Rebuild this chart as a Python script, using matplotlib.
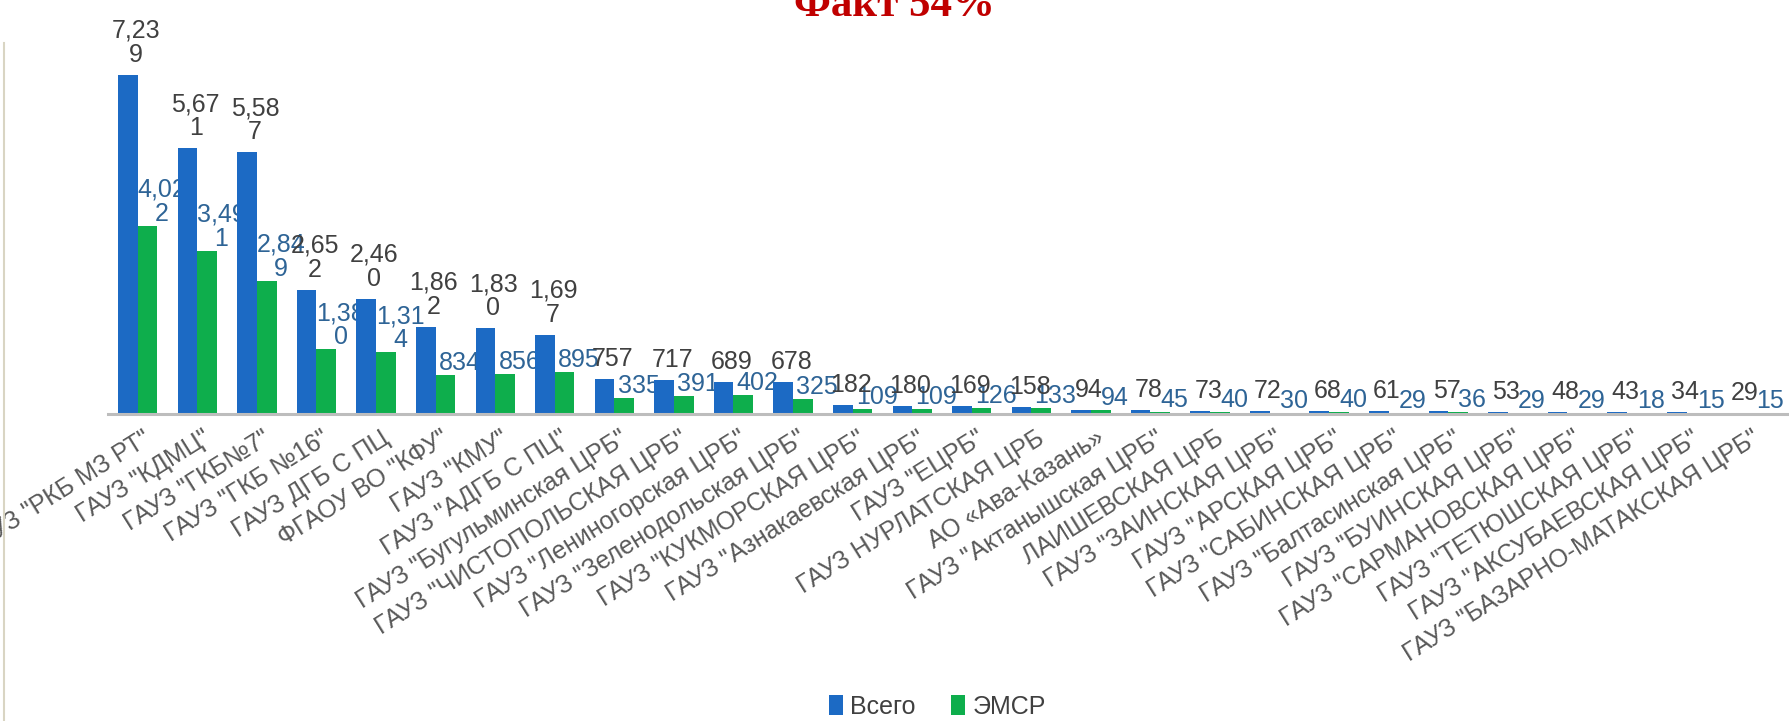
import matplotlib
matplotlib.use("Agg")
import matplotlib.pyplot as plt
from matplotlib.patches import Patch
from matplotlib.lines import Line2D
from matplotlib.transforms import offset_copy
import numpy as np

plt.rcParams['font.family'] = ['Liberation Sans', 'DejaVu Sans']

categories = [
    'ГАУЗ "РКБ МЗ РТ"', 'ГАУЗ "КДМЦ"', 'ГАУЗ "ГКБ№7"', 'ГАУЗ "ГКБ №16"',
    'ГАУЗ ДГБ С ПЦ', 'ФГАОУ ВО "КФУ"', 'ГАУЗ "КМУ"', 'ГАУЗ "АДГБ С ПЦ"',
    'ГАУЗ "Бугульминская ЦРБ"', 'ГАУЗ "ЧИСТОПОЛЬСКАЯ ЦРБ"',
    'ГАУЗ "Лениногорская ЦРБ"', 'ГАУЗ "Зеленодольская ЦРБ"',
    'ГАУЗ "КУКМОРСКАЯ ЦРБ"', 'ГАУЗ "Азнакаевская ЦРБ"', 'ГАУЗ "ЕЦРБ"',
    'ГАУЗ НУРЛАТСКАЯ ЦРБ', 'АО «Ава-Казань»', 'ГАУЗ "Актанышская ЦРБ"',
    'ЛАИШЕВСКАЯ ЦРБ', 'ГАУЗ "ЗАИНСКАЯ ЦРБ"', 'ГАУЗ "АРСКАЯ ЦРБ"',
    'ГАУЗ "САБИНСКАЯ ЦРБ"', 'ГАУЗ "Балтасинская ЦРБ"', 'ГАУЗ "БУИНСКАЯ ЦРБ"',
    'ГАУЗ "САРМАНОВСКАЯ ЦРБ"', 'ГАУЗ "ТЕТЮШСКАЯ ЦРБ"',
    'ГАУЗ "АКСУБАЕВСКАЯ ЦРБ"', 'ГАУЗ "БАЗАРНО-МАТАКСКАЯ ЦРБ"',
]
vsego = [7239, 5671, 5587, 2652, 2460, 1862, 1830, 1697, 757, 717, 689, 678,
         182, 180, 169, 158, 94, 78, 73, 72, 68, 61, 57, 53, 48, 43, 34, 29]
emsr = [4022, 3491, 2849, 1380, 1314, 834, 856, 895, 335, 391, 402, 325,
        109, 109, 126, 133, 94, 45, 40, 30, 40, 29, 36, 29, 29, 18, 15, 15]
series_names = ['Всего', 'ЭМСР']
title = 'Факт 54%'

BLUE = '#1C6AC4'
GREEN = '#0EAE4C'
LBL_GRAY = '#404040'
LBL_BLUE = '#2E6496'
TICK_GRAY = '#595959'

W, H, DPI = 1789, 721, 100
fig = plt.figure(figsize=(W / DPI, H / DPI), dpi=DPI)

# axes: left at 108 px, right at image edge, baseline at 414 px from top
left = 108 / W
bottom = (H - 414) / H
ax = fig.add_axes([left, bottom, 1 - left, 1 - bottom])

x = np.arange(len(categories))
bw = 0.33
ax.bar(x - bw / 2, vsego, width=bw, color=BLUE, zorder=3)
ax.bar(x + bw / 2, emsr, width=bw, color=GREEN, zorder=3)

ax.set_xlim(-0.5, 27.72)
ax.set_ylim(0, 8840)

for s in ['top', 'right', 'left']:
    ax.spines[s].set_visible(False)
ax.spines['bottom'].set_color('#BDBDBD')
ax.spines['bottom'].set_linewidth(2.2)
ax.spines['bottom'].set_zorder(4)
ax.set_yticks([])
ax.set_xticks(x)
ax.set_xticklabels([])
ax.tick_params(axis='x', length=0)
ax.patch.set_alpha(0)


def fmt(v):
    s = f"{v:,}"
    if len(s) > 4:
        s = s[:4] + "\n" + s[4:]
    return s


tr_up = offset_copy(ax.transData, fig=fig, x=0, y=8, units='dots')
tr_up2 = offset_copy(ax.transData, fig=fig, x=0, y=0, units='dots')
for i, (a, b) in enumerate(zip(vsego, emsr)):
    ax.text(i - 0.03, a, fmt(a), ha='center', va='bottom', fontsize=18,
            color=LBL_GRAY, transform=tr_up, linespacing=1.0,
            zorder=5, clip_on=False)
    ax.text(i + bw / 2 + 0.24, b, fmt(b), ha='center', va='bottom', fontsize=18,
            color=LBL_BLUE, transform=tr_up2, linespacing=1.0,
            zorder=2, clip_on=False)

# category labels
tr_lab = offset_copy(ax.transData, fig=fig, x=0, y=-12, units='dots')
for i, c in enumerate(categories):
    ax.text(i + 0.08, 0, c, rotation=32, rotation_mode='anchor', ha='right',
            va='top', fontsize=18, color=TICK_GRAY, transform=tr_lab,
            clip_on=False)

# title (partially cut off at top)
fig.text(0.5, 1 - 16 / H, title, ha='center', va='baseline', fontsize=31,
         fontweight='bold', family='Liberation Serif', color='#C00000')

# left border line
fig.add_artist(Line2D([4 / W, 4 / W], [0, 0.94], color='#D9D5C3', lw=1.5))

handles = [Patch(facecolor=BLUE), Patch(facecolor=GREEN)]
fig.legend(handles, series_names, loc='center', bbox_to_anchor=(0.524, 0.02),
           ncol=2, frameon=False, fontsize=18, handlelength=0.55,
           handleheight=0.9, handletextpad=0.3, columnspacing=1.4,
           labelcolor='#404040')

fig.savefig('out.png', dpi=DPI)
